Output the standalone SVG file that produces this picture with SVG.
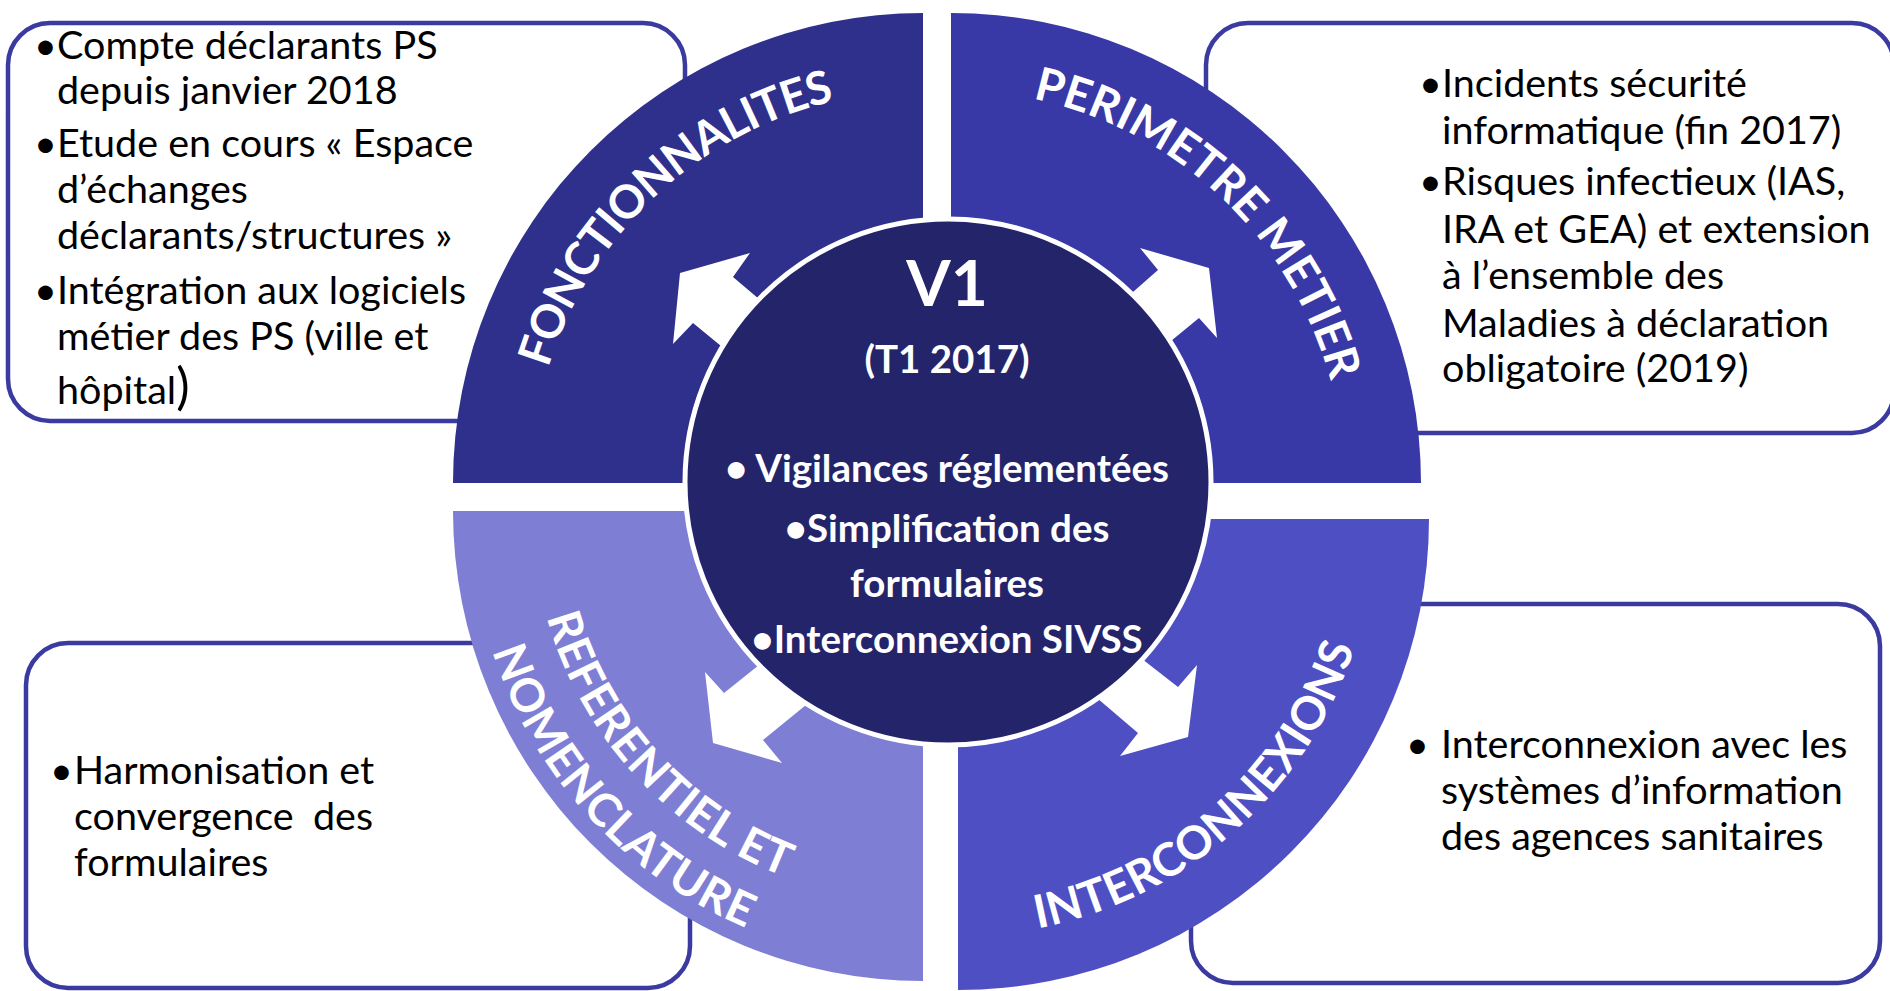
<svg xmlns="http://www.w3.org/2000/svg" width="1890" height="991" viewBox="0 0 1890 991">
<style>
.box{fill:#fff;stroke:#3a3aa0;stroke-width:4.5}
.t{font-family:Lato,"Open Sans",sans-serif;font-size:39.5px;fill:#000}
.c{font-family:Lato,"Open Sans",sans-serif;font-size:38.5px;font-weight:bold;fill:#fff;text-anchor:middle}
.v1{font-size:64px}
.arc{font-family:Lato,"Open Sans",sans-serif;font-size:46px;font-weight:bold;fill:#fff;text-anchor:middle}
.arrow{fill:#fff}
</style>
<defs>
<path id="pTL" d="M 531,483 A 392 392 0 0 1 950.4,91.9"/>
<path id="pTR" d="M 923.6,90.9 A 393 393 0 0 1 1343.9,489.9"/>
<path id="pBL1" d="M 533.5,476.9 A 391 391 0 0 0 923,902"/>
<path id="pBL2" d="M 471.7,471.5 A 453 453 0 0 0 923,964"/>
<path id="pBR" d="M 914.4,933.7 A 417 417 0 0 0 1374.9,526.3"/>
</defs>
<rect width="1890" height="991" fill="#fff"/>

<g id="box-tl">
<rect class="box" x="8" y="23" width="677" height="398" rx="42"/>
<text class="t" x="34" y="59">•</text><text class="t" x="57" y="59">Compte déclarants PS</text>
<text class="t" x="57" y="104">depuis janvier 2018</text>
<text class="t" x="34" y="157">•</text><text class="t" x="57" y="157">Etude en cours « Espace</text>
<text class="t" x="57" y="203">d’échanges</text>
<text class="t" x="57" y="249">déclarants/structures »</text>
<text class="t" x="34" y="304">•</text><text class="t" x="57" y="304">Intégration aux logiciels</text>
<text class="t" x="57" y="350">métier des PS (ville et</text>
<text class="t" x="57" y="404">hôpital<tspan style="font-size:50px">)</tspan></text>
</g>

<g id="box-tr">
<rect class="box" x="1206" y="23" width="688" height="410" rx="42"/>
<text class="t" x="1419" y="97">•</text><text class="t" x="1442" y="97">Incidents sécurité</text>
<text class="t" x="1442" y="144">informatique (fin 2017)</text>
<text class="t" x="1419" y="195">•</text><text class="t" x="1442" y="195">Risques infectieux (IAS,</text>
<text class="t" x="1442" y="243">IRA et GEA) et extension</text>
<text class="t" x="1442" y="289">à l’ensemble des</text>
<text class="t" x="1442" y="337">Maladies à déclaration</text>
<text class="t" x="1442" y="382">obligatoire (2019)</text>
</g>

<g id="box-bl">
<rect class="box" x="26" y="643" width="664" height="345" rx="42"/>
<text class="t" x="50" y="784">•</text><text class="t" x="74" y="784">Harmonisation et</text>
<text class="t" x="74" y="830">convergence</text><text class="t" x="373" y="830" text-anchor="end">des</text>
<text class="t" x="74" y="876">formulaires</text>
</g>

<g id="box-br">
<rect class="box" x="1191" y="604" width="689" height="379" rx="42"/>
<text class="t" x="1406" y="758">•</text><text class="t" x="1441" y="758">Interconnexion avec les</text>
<text class="t" x="1441" y="804">systèmes d’information</text>
<text class="t" x="1441" y="850">des agences sanitaires</text>
</g>

<g id="q-fonctionnalites">
<path d="M 923,483 L 453,483 A 470 470 0 0 1 923,13 Z" fill="#2e308b"/>
<text class="arc"><textPath href="#pTL" startOffset="50%" textLength="410">FONCTIONNALITES</textPath></text>
</g>
<g id="q-perimetre">
<path d="M 951,483 L 951,13 A 470 470 0 0 1 1421,483 Z" fill="#3838a6"/>
<text class="arc"><textPath href="#pTR" startOffset="50%" textLength="432">PERIMETRE METIER</textPath></text>
</g>
<g id="q-referentiel">
<path d="M 923,511 L 923,981 A 470 470 0 0 1 453,511 Z" fill="#7e7ed4"/>
<text class="arc"><textPath href="#pBL1" startOffset="50%" textLength="365">REFERENTIEL ET</textPath></text>
<text class="arc"><textPath href="#pBL2" startOffset="50%" textLength="387">NOMENCLATURE</textPath></text>
</g>
<g id="q-interconnexions">
<path d="M 958,519 L 1429,519 A 471 471 0 0 1 958,990 Z" fill="#4f4fc4"/>
<text class="arc"><textPath href="#pBR" startOffset="50%" textLength="444">INTERCONNEXIONS</textPath></text>
</g>

<g id="connectors">
<polygon class="arrow" points="680,273 750,253 733,277 800,334 760,378 693,323 673,344"/>
<polygon class="arrow" points="1209,268 1217,338 1199,318 1132,373 1092,328 1158,270 1140,248"/>
<polygon class="arrow" points="713,743 705,672 724,693 790,640 833,683 763,740 782,763"/>
<polygon class="arrow" points="1188,737 1197,665 1178,687 1110,634 1070,675 1138,733 1120,756"/>
</g>

<g id="center">
<circle cx="948" cy="482" r="263" fill="#24246b" stroke="#fff" stroke-width="5"/>
<text class="c v1" x="947" y="306">V1</text>
<text class="c" x="947" y="373">(T1 2017)</text>
<text class="c" x="947" y="482">• Vigilances réglementées</text>
<text class="c" x="947" y="542">•Simplification des</text>
<text class="c" x="947" y="597">formulaires</text>
<text class="c" x="947" y="653">•Interconnexion SIVSS</text>
</g>
</svg>
